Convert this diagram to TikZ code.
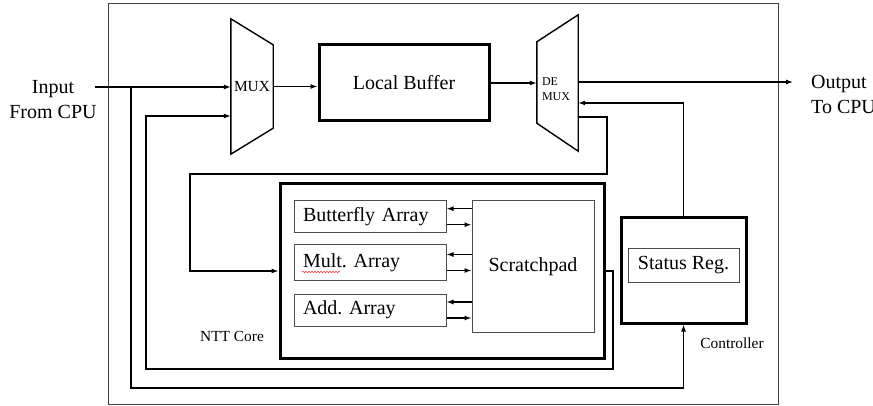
\documentclass[tikz,border=0pt]{standalone}
\usepackage{fontspec}
\setmainfont{Liberation Serif}
\usetikzlibrary{arrows.meta,decorations.pathmorphing,calc}
\frenchspacing

\begin{document}
\begin{tikzpicture}[x=1pt,y=-1pt,
  conn/.style={line width=1.3pt},
  arr/.style={conn,-{Latex[length=7pt,width=5pt]}},
  thickbox/.style={draw,line width=3pt,inner sep=0pt},
  thinbox/.style={draw=black!70,line width=1pt,inner ysep=0pt,inner xsep=9pt,
                  text width=134pt,align=left,minimum height=32pt},
  big/.style={font=\fontsize{20}{25}\selectfont},
  small/.style={font=\fontsize{15.4}{18}\selectfont},
  tiny/.style={font=\fontsize{12}{15}\selectfont},
]
\useasboundingbox (0,0) rectangle (873,406);

% accelerator frame
\draw[black!75,line width=1pt] (108,4) rectangle (778,404);

% multiplexer and demultiplexer
\node[small,inner sep=0pt,minimum width=42pt,minimum height=135pt] (mux) at (252,86.5) {MUX};
\draw[line width=1.4pt] (mux.north west) -- ($(mux.north east)+(0,26)$)
  -- ($(mux.south east)+(0,-26)$) -- (mux.south west) -- cycle;

\node[inner sep=0pt,minimum width=41pt,minimum height=136pt] (demux) at (557.5,83) {};
\draw[line width=1.4pt] ($(demux.north west)+(0,27)$) -- (demux.north east)
  -- (demux.south east) -- ($(demux.south west)+(0,-28)$) -- cycle;
\node[tiny,align=left,inner sep=0pt] (demuxtxt) at (556,89) {DE\\MUX};

% buffer
\node[thickbox,big,minimum width=170pt,minimum height=76pt] (lb) at (404,83) {Local Buffer};

% NTT core
\node[thickbox,minimum width=324pt,minimum height=174pt] (ntt) at (442,271) {};
\node[small,anchor=center] (nttlbl) at (232,336) {NTT Core};
\node[thinbox,big] (bfa) at (370,216.7) {Butterfly Array\hfill};
\node[thinbox,big,minimum height=35pt] (mul) at (370,262.5) {Mult. Array\hfill};
\node[thinbox,big] (add) at (370,310) {Add. Array\hfill};
\node[draw=black!70,line width=1pt,big,minimum width=122pt,minimum height=131pt] (sp) at (533,266.5) {Scratchpad};
\draw[red!80,line width=0.6pt,decorate,decoration={snake,amplitude=0.7pt,segment length=3pt}]
  (302,272) -- (340,272);

% controller
\node[thickbox,minimum width=125pt,minimum height=105pt] (ctrl) at (683.5,270.5) {};
\node[draw=black!70,line width=1pt,big,minimum width=111pt,minimum height=33pt,inner sep=0pt] (sreg) at (683.5,265.5) {Status Reg.};
\node[small] (ctrllbl) at (732,343) {Controller};

% external labels
\node[big,align=center,inner sep=0pt] (intxt) at (53,99.5) {Input\\From CPU};
\node[big,align=left,anchor=west,inner sep=0pt] (outtxt) at (811,94) {Output\\To CPU};

% helper points of the wiring
\coordinate (inp) at (95,87);
\coordinate (busb) at (131,388);
\coordinate (outp) at (793,82);
\coordinate (fb) at (0,103);
\coordinate (d1) at (607,117);
\coordinate (d2) at (190,174);
\coordinate (n1) at (613,369);
\coordinate (n2) at (146,116);

% data path
\draw[arr] (inp) -- (inp -| mux.west);
\draw[arr] (inp -| busb) -- (busb) -| (ctrl.south);
\draw[arr] (mux.east) -- (mux.east -| lb.west);
\draw[arr] (lb.east) -- (lb.east -| demux.west);
\draw[arr,line width=1.1pt] (demux.east |- outp) -- (outp);
\draw[arr] (ctrl.north) |- (demux.east |- fb);
\draw[arr] (demux.east |- d1) -- (d1) |- (d2) |- (ntt.west);
\draw[arr] (ntt.east) -| (n1) -| (n2) -- (n2 -| mux.west);

% array <-> scratchpad links
\foreach \n in {bfa,mul,add}{
  \path (\n.east) ++(0,-8) coordinate (\n up) (\n.east) ++(0,8) coordinate (\n dn);
  \draw[arr] (\n up -| sp.west) -- (\n up);
  \draw[arr] (\n dn) -- (\n dn -| sp.west);
}
\end{tikzpicture}
\end{document}
